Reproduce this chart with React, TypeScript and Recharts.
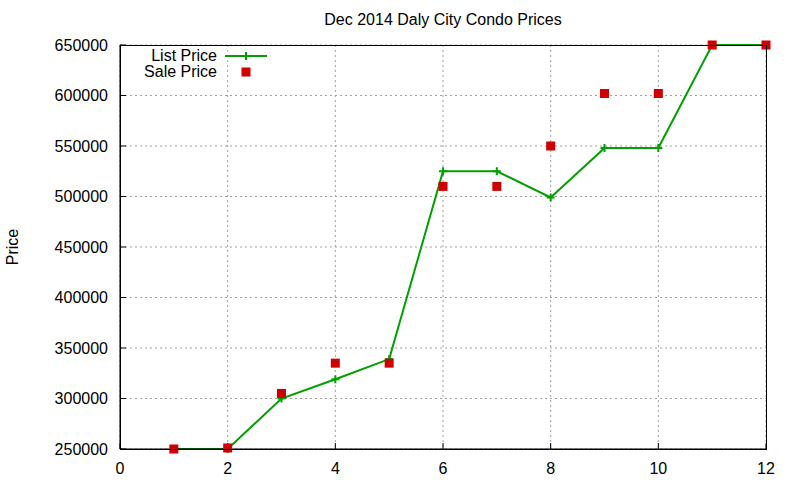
import React from 'react';
import { ComposedChart, Line, Scatter, XAxis, YAxis, CartesianGrid } from 'recharts';

const months = [1, 2, 3, 4, 5, 6, 7, 8, 9, 10, 11, 12];
const listPrice = [250000, 250000, 300000, 319000, 339000, 525000, 525000, 499000, 548000, 548000, 650000, 650000];
const salePrice = [250000, 251000, 305000, 335000, 335000, 510000, 510000, 550000, 602000, 602000, 650000, 650000];
const xTicks = [0, 2, 4, 6, 8, 10, 12];
const yTicks = [250000, 300000, 350000, 400000, 450000, 500000, 550000, 600000, 650000];

const data = months.map((m, i) => ({ x: m, list: listPrice[i], sale: salePrice[i] }));

const FONT = '"Liberation Sans", Arial, sans-serif';
const GREEN = '#00a000';
const RED = '#d00000';

const PlusDot = (props: any) => {
  const { cx, cy } = props;
  if (cx == null || cy == null) return null;
  return (
    <g>
      <line x1={cx - 4} y1={cy} x2={cx + 4} y2={cy} stroke={GREEN} strokeWidth={2} />
      <line x1={cx} y1={cy - 4} x2={cx} y2={cy + 4} stroke={GREEN} strokeWidth={2} />
    </g>
  );
};

const SquareDot = (props: any) => {
  const { cx, cy } = props;
  if (cx == null || cy == null) return null;
  return <rect x={cx - 4.5} y={cy - 4.5} width={9} height={9} fill={RED} />;
};

const LegendBox = () => (
  <svg width={180} height={40} style={{ position: 'absolute', left: 128, top: 46, overflow: 'visible' }}>
    <text x={89} y={15} textAnchor="end" fontFamily={FONT} fontSize={16} fill="#000">List Price</text>
    <line x1={97} y1={10} x2={139} y2={10} stroke={GREEN} strokeWidth={2} />
    <line x1={118} y1={6} x2={118} y2={14} stroke={GREEN} strokeWidth={2} />
    <text x={89} y={31} textAnchor="end" fontFamily={FONT} fontSize={16} fill="#000">Sale Price</text>
    <rect x={113.5} y={21.5} width={9} height={9} fill={RED} />
  </svg>
);

export default function App() {
  return (
    <div style={{ position: 'fixed', left: 0, top: 0, width: 800, height: 480, background: '#fff' }}>
      <div style={{ position: 'absolute', left: 120, width: 646, top: 10, textAlign: 'center', fontFamily: FONT, fontSize: 16, lineHeight: '20px', color: '#000' }}>
        Dec 2014 Daly City Condo Prices
      </div>
      <ComposedChart
        width={800}
        height={480}
        data={data}
        margin={{ top: 45, right: 34, bottom: 0, left: 0 }}
        style={{ fontFamily: FONT }}
      >
        <CartesianGrid xAxisId="b" yAxisId="l" stroke="#a0a0a0" strokeDasharray="2 3" />
        <XAxis
          xAxisId="b"
          dataKey="x"
          type="number"
          domain={[0, 12]}
          ticks={xTicks}
          height={31}
          tickSize={-6}
          tickMargin={20}
          axisLine={{ stroke: '#000' }}
          tickLine={{ stroke: '#000' }}
          tick={{ fill: '#000', fontSize: 16 }}
        />
        <YAxis
          yAxisId="l"
          type="number"
          domain={[250000, 650000]}
          ticks={yTicks}
          width={120}
          tickSize={-6}
          tickMargin={18}
          axisLine={{ stroke: '#000' }}
          tickLine={{ stroke: '#000' }}
          tick={{ fill: '#000', fontSize: 16 }}
          label={{ value: 'Price', angle: -90, position: 'insideLeft', offset: 12, style: { fill: '#000', fontSize: 16, textAnchor: 'middle' } }}
        />
        <Line
          xAxisId="b"
          yAxisId="l"
          dataKey="list"
          name="List Price"
          stroke={GREEN}
          strokeWidth={2}
          dot={<PlusDot />}
          activeDot={false}
          isAnimationActive={false}
        />
        <Scatter
          xAxisId="b"
          yAxisId="l"
          dataKey="sale"
          name="Sale Price"
          fill={RED}
          shape={<SquareDot />}
          isAnimationActive={false}
        />
      </ComposedChart>
      <div style={{ position: 'absolute', left: 120, top: 45, width: 647, height: 405, border: '1px solid #000', boxSizing: 'border-box', pointerEvents: 'none' }} />
      <LegendBox />
    </div>
  );
}
